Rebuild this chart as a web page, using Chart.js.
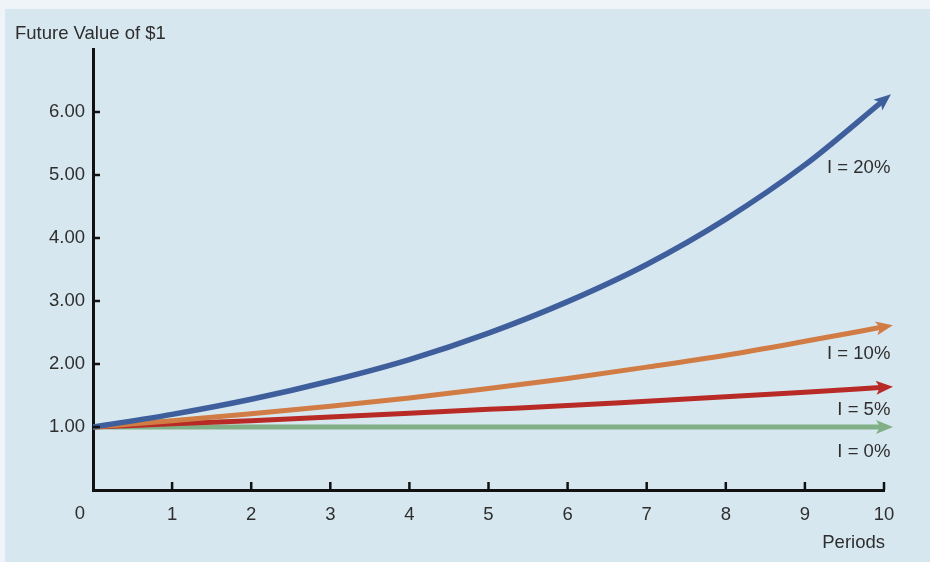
<!DOCTYPE html>
<html>
<head>
<meta charset="utf-8">
<title>Future Value of $1</title>
<script src="https://cdn.jsdelivr.net/npm/chart.js@4.4.1/dist/chart.umd.min.js"></script>
<style>
  html, body { margin: 0; padding: 0; background: #eef4f7; }
  #wrap { width: 930px; height: 562px; position: relative; }
</style>
</head>
<body>
<div id="wrap"><canvas id="fv" width="930" height="562"></canvas></div>
<script>
// Periods on the horizontal axis
const periods = [0, 1, 2, 3, 4, 5, 6, 7, 8, 9, 10];

// Future value of $1 at each period, by interest rate
const fv20 = [1.00, 1.20, 1.44, 1.73, 2.07, 2.49, 2.99, 3.58, 4.30, 5.16, 6.19];
const fv10 = [1.00, 1.10, 1.21, 1.33, 1.46, 1.61, 1.77, 1.95, 2.14, 2.36, 2.59];
const fv05 = [1.00, 1.05, 1.10, 1.16, 1.22, 1.28, 1.34, 1.41, 1.48, 1.55, 1.63];
const fv00 = [1.00, 1.00, 1.00, 1.00, 1.00, 1.00, 1.00, 1.00, 1.00, 1.00, 1.00];

const seriesNames = ['I = 20%', 'I = 10%', 'I = 5%', 'I = 0%'];
const seriesValues = [fv20, fv10, fv05, fv00];
const seriesColors = ['#3e5e9c', '#d27c45', '#b82a26', '#82b086'];

// Value-axis ticks that carry a label
const yTickLabels = [1, 2, 3, 4, 5, 6];

// Where each rate label sits, in axis units (x, y)
const noteX = 10.08;
const noteY = [5.11, 2.16, 1.27, 0.60];

const FONT = '"Liberation Sans", Arial, Helvetica, sans-serif';
const FONT_SIZE = 18.5;
const INK = '#2e2e2e';

const datasets = seriesValues.map((vals, i) => ({
  label: seriesNames[i],
  data: periods.map((p, k) => ({ x: p, y: vals[k] })),
  borderColor: seriesColors[i],
  backgroundColor: seriesColors[i],
  borderWidth: i === 0 ? 5.5 : 5,
  pointRadius: 0,
  cubicInterpolationMode: 'monotone',
  fill: false,
  borderCapStyle: 'butt'
}));

const decorations = {
  id: 'decorations',
  beforeDraw(chart) {
    const c = chart.ctx;
    c.save();
    c.fillStyle = '#eef4f7';
    c.fillRect(0, 0, chart.width, chart.height);
    c.fillStyle = '#d7e7f0';
    c.fillRect(5, 9, chart.width - 5, chart.height - 9);
    c.restore();
  },
  afterDatasetsDraw(chart) {
    const c = chart.ctx;
    const xs = chart.scales.x, ys = chart.scales.y;
    c.save();

    // arrowheads at the end of every curve
    chart.data.datasets.forEach((ds, i) => {
      const meta = chart.getDatasetMeta(i);
      const pts = meta.data;
      const last = pts[pts.length - 1];
      const ex = last.x, ey = last.y;
      let dx = ex - (last.cp1x !== undefined ? last.cp1x : pts[pts.length - 2].x);
      let dy = ey - (last.cp1y !== undefined ? last.cp1y : pts[pts.length - 2].y);
      const len = Math.hypot(dx, dy) || 1;
      dx /= len; dy /= len;
      const px = -dy, py = dx;
      const tipX = ex + dx * 9, tipY = ey + dy * 9;
      const backX = ex - dx * 8, backY = ey - dy * 8;
      const notchX = ex - dx * 4, notchY = ey - dy * 4;
      c.fillStyle = ds.borderColor;
      c.beginPath();
      c.moveTo(tipX, tipY);
      c.lineTo(backX + px * 7, backY + py * 7);
      c.lineTo(notchX, notchY);
      c.lineTo(backX - px * 7, backY - py * 7);
      c.closePath();
      c.fill();
    });

    // inward tick marks
    c.strokeStyle = '#111';
    c.lineWidth = 2.5;
    const x0 = xs.getPixelForValue(0);
    const y0 = ys.getPixelForValue(0);
    yTickLabels.forEach(v => {
      const y = ys.getPixelForValue(v);
      c.beginPath();
      c.moveTo(x0, y);
      c.lineTo(x0 + 7, y);
      c.stroke();
    });
    periods.slice(1).forEach(p => {
      const x = xs.getPixelForValue(p);
      c.beginPath();
      c.moveTo(x, y0);
      c.lineTo(x, y0 - 8);
      c.stroke();
    });

    // rate labels
    c.fillStyle = INK;
    c.font = FONT_SIZE + 'px ' + FONT;
    c.textAlign = 'right';
    c.textBaseline = 'middle';
    seriesNames.forEach((name, i) => {
      c.fillText(name, xs.getPixelForValue(noteX), ys.getPixelForValue(noteY[i]));
    });

    // origin label, set to the lower left of the corner
    c.textAlign = 'center';
    c.fillText('0', x0 - 13, y0 + 24);

    // axis captions
    c.textAlign = 'left';
    c.fillText('Future Value of $1', 15, 34);
    c.textAlign = 'right';
    c.fillText('Periods', xs.getPixelForValue(10) + 1, 543);
    c.restore();
  }
};

new Chart(document.getElementById('fv'), {
  type: 'line',
  data: { datasets },
  options: {
    responsive: false,
    animation: false,
    devicePixelRatio: 1,
    layout: { padding: { left: 0, top: 49, right: 46, bottom: 0 } },
    plugins: { legend: { display: false }, tooltip: { enabled: false }, title: { display: false } },
    scales: {
      x: {
        type: 'linear',
        min: 0,
        max: 10,
        afterFit(s) { s.height = 72; },
        grid: { display: false },
        border: { display: true, color: '#111', width: 3 },
        ticks: {
          stepSize: 1,
          padding: 6,
          color: INK,
          font: { family: FONT, size: FONT_SIZE },
          maxRotation: 0,
          callback: v => (v === 0 ? '' : String(v))
        }
      },
      y: {
        type: 'linear',
        min: 0,
        max: 7,
        afterFit(s) { s.width = 93; },
        grid: { display: false },
        border: { display: true, color: '#111', width: 3 },
        ticks: {
          stepSize: 1,
          padding: 0,
          color: INK,
          font: { family: FONT, size: FONT_SIZE },
          callback: v => (yTickLabels.includes(v) ? v.toFixed(2) : '')
        }
      }
    }
  },
  plugins: [decorations]
});
</script>
</body>
</html>
